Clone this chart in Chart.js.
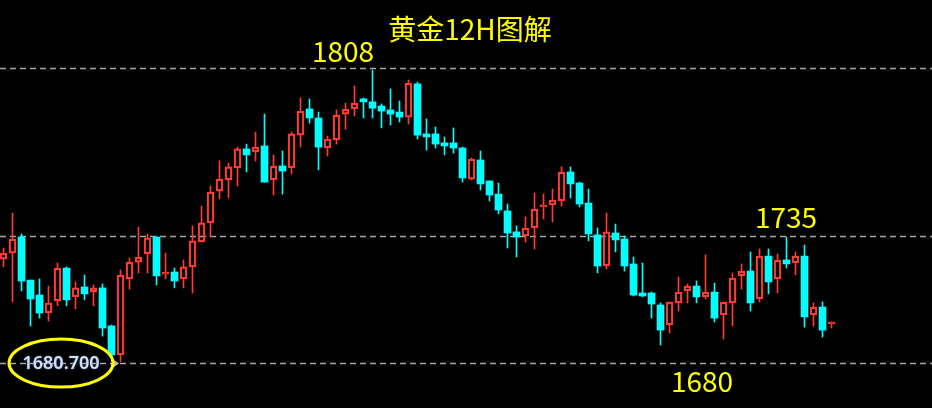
<!DOCTYPE html>
<html>
<head>
<meta charset="utf-8">
<script src="https://cdn.jsdelivr.net/npm/chart.js@4.4.0/dist/chart.umd.min.js"></script>
<style>
  html,body{margin:0;padding:0;background:#000;overflow:hidden;}
  #wrap{width:932px;height:408px;}
</style>
</head>
<body>
<div id="wrap"><canvas id="c" width="932" height="408"></canvas></div>
<script>
// 12H candles (price units)
const opens = [1725.1,1727.7,1734.7,1716.0,1709.5,1701.7,1706.9,1721.2,1708.7,1713.0,
  1710.8,1712.6,1696.1,1683.5,1716.5,1723.8,1727.3,1734.7,1718.6,1719.5,
  1716.5,1721.7,1732.5,1740.8,1754.6,1759.4,1764.6,1772.9,1771.6,1774.2,
  1759.4,1765.5,1764.6,1778.9,1790.2,1786.3,1773.3,1776.8,1788.0,1790.2,
  1794.6,1793.3,1791.5,1789.8,1788.9,1786.7,1801.1,1779.4,1779.4,1775.5,
  1775.5,1773.3,1759.8,1768.1,1759.0,1753.3,1746.0,1736.9,1735.1,1738.6,
  1747.7,1748.6,1750.3,1762.9,1758.1,1749.4,1735.6,1722.1,1736.4,1733.8,
  1723.0,1710.4,1710.4,1705.2,1696.5,1706.1,1711.3,1713.4,1708.7,1710.8,
  1700.9,1706.1,1717.8,1719.9,1707.8,1726.4,1716.5,1724.7,1723.4,1726.4,
  1700.9,1704.3,1697.0];
const highs = [1729.9,1745.1,1736.0,1716.0,1716.5,1713.4,1723.4,1721.7,1715.2,1718.2,
  1713.9,1714.3,1696.5,1720.4,1725.6,1739.0,1736.0,1734.7,1727.7,1721.2,
  1724.7,1739.5,1748.1,1756.8,1767.7,1766.8,1773.7,1775.0,1780.2,1788.0,
  1770.3,1772.0,1780.2,1795.0,1794.6,1788.9,1778.5,1789.8,1792.8,1800.2,
  1795.0,1807.1,1792.4,1798.9,1793.7,1802.8,1801.9,1785.9,1782.4,1778.1,
  1782.0,1773.7,1769.0,1772.0,1759.0,1758.1,1749.0,1739.5,1743.4,1753.8,
  1753.3,1755.5,1765.1,1765.1,1758.5,1755.5,1738.6,1745.1,1740.3,1735.1,
  1726.0,1723.4,1710.8,1706.1,1706.5,1717.3,1714.3,1715.6,1726.9,1714.7,
  1706.5,1719.1,1723.0,1728.2,1729.5,1729.5,1727.3,1734.7,1728.2,1731.2,
  1706.1,1706.5,1697.8];
const lows = [1721.7,1706.5,1711.3,1696.1,1699.5,1698.2,1704.8,1704.8,1703.5,1707.4,
  1704.8,1691.7,1682.6,1680.7,1712.1,1719.1,1719.1,1713.9,1716.5,1712.6,
  1712.6,1710.4,1732.5,1734.7,1751.2,1751.6,1756.8,1762.9,1767.7,1758.5,
  1752.9,1753.3,1762.0,1773.7,1784.1,1763.8,1769.8,1775.0,1781.5,1787.2,
  1786.3,1786.3,1782.0,1783.3,1784.6,1783.7,1777.2,1772.4,1773.3,1770.3,
  1771.1,1758.5,1759.4,1755.1,1750.3,1744.7,1729.9,1726.0,1732.5,1729.5,
  1742.5,1741.2,1748.1,1751.6,1747.7,1733.0,1719.1,1720.8,1728.2,1719.9,
  1709.1,1708.7,1699.5,1687.8,1693.0,1702.6,1706.1,1706.1,1707.8,1697.8,
  1690.4,1696.1,1712.1,1702.6,1706.5,1710.0,1710.4,1721.2,1718.2,1695.6,
  1696.1,1691.3,1695.2];
const closes = [1727.7,1733.8,1715.6,1707.8,1701.7,1706.1,1721.2,1707.4,1712.6,1710.0,
  1712.6,1695.2,1683.5,1718.2,1723.8,1726.0,1734.3,1717.8,1719.1,1715.6,
  1721.7,1733.0,1740.8,1754.2,1759.8,1765.1,1772.9,1770.3,1773.7,1758.5,
  1765.5,1763.3,1779.4,1789.3,1786.3,1773.7,1777.2,1787.6,1790.2,1792.8,
  1793.3,1790.6,1789.3,1788.0,1786.7,1801.5,1778.9,1778.1,1775.0,1774.2,
  1773.3,1760.3,1768.5,1757.7,1752.9,1746.4,1736.4,1734.7,1738.6,1746.8,
  1748.6,1750.7,1762.9,1757.7,1749.0,1736.0,1722.1,1736.9,1733.4,1722.1,
  1709.5,1709.1,1705.6,1694.3,1706.5,1710.8,1713.4,1708.7,1710.8,1699.5,
  1706.5,1716.9,1719.9,1706.1,1726.4,1715.2,1724.7,1723.0,1726.4,1700.0,
  1704.3,1694.3,1697.4];

// horizontal levels and their labels
const levels = [1808, 1735, 1680];
const levelLabels = ['1808', '1735', '1680'];
const lowPrice = '1680.700';
const title = '黄金12H图解';

const RED = '#ff3a30', CYAN = '#00ffff';

const isUp = opens.map((o,i)=>closes[i] >= o);
const colors = isUp.map(u=>u ? RED : CYAN);
const bodies = opens.map((o,i)=>({x:i, y:[o, closes[i]]}));
const upperWicks = opens.map((o,i)=>({x:i, y:[Math.max(o,closes[i]), highs[i]]}));
const lowerWicks = opens.map((o,i)=>({x:i, y:[lows[i], Math.min(o,closes[i])]}));

// dashed lines behind the candles
const levelLines = {
  id:'levelLines',
  beforeDatasetsDraw(chart){
    const {ctx, scales:{y}} = chart;
    ctx.save();
    ctx.strokeStyle = '#a8a8a8';
    ctx.lineWidth = 1.5;
    ctx.setLineDash([6,4]);
    levels.forEach(v=>{
      const py = Math.round(y.getPixelForValue(v)) + 0.5;
      ctx.beginPath(); ctx.moveTo(0,py); ctx.lineTo(chart.width,py); ctx.stroke();
    });
    ctx.restore();
  }
};

// title, level labels, low marker
const notes = {
  id:'notes',
  afterDraw(chart){
    const {ctx, scales:{y}} = chart;
    ctx.save();
    ctx.fillStyle = '#ffff00';
    ctx.textAlign = 'center';
    ctx.textBaseline = 'alphabetic';
    ctx.font = '28px "Noto Sans CJK SC"';
    ctx.fillText(title, 470, 40);
    ctx.fillText(levelLabels[0], 343, y.getPixelForValue(levels[0]) - 6);
    ctx.fillText(levelLabels[1], 786, y.getPixelForValue(levels[1]) - 8);
    ctx.fillText(levelLabels[2], 702, y.getPixelForValue(levels[2]) + 29);

    // price tag of the low
    const py = y.getPixelForValue(levels[2]);
    ctx.font = '600 18px "Noto Sans"';
    ctx.textBaseline = 'middle';
    ctx.shadowColor = 'rgba(70,120,230,0.9)';
    ctx.shadowBlur = 2;
    ctx.fillStyle = '#d8dde8';
    ctx.fillText(lowPrice, 61, py + 1);
    ctx.shadowBlur = 0;
    ctx.fillStyle = '#bbbbbb';
    ctx.beginPath(); ctx.moveTo(114, py-3); ctx.lineTo(119, py+0.5); ctx.lineTo(114, py+4); ctx.closePath(); ctx.fill();

    ctx.strokeStyle = '#ffff00';
    ctx.lineWidth = 3;
    ctx.beginPath();
    ctx.ellipse(61, py, 52, 24, 0, 0, Math.PI*2);
    ctx.stroke();
    ctx.restore();
  }
};

const wickSet = (data)=>({
  data, backgroundColor: colors, borderWidth: 0,
  barThickness: 1, grouped: false, order: 2
});

new Chart(document.getElementById('c'), {
  type:'bar',
  data:{datasets:[
    wickSet(upperWicks),
    wickSet(lowerWicks),
    {
      data: bodies,
      backgroundColor: isUp.map(u=>u ? 'rgba(0,0,0,0)' : CYAN),
      borderColor: colors,
      borderWidth: isUp.map(u=>u ? 1.6 : 0),
      borderSkipped: false,
      barThickness: 7,
      minBarLength: 2,
      grouped: false,
      order: 1
    }
  ]},
  options:{
    responsive:false,
    animation:false,
    events:[],
    layout:{padding:0},
    plugins:{legend:{display:false}, tooltip:{enabled:false}, title:{display:false}},
    scales:{
      x:{type:'linear', display:false, offset:false, grace:0, bounds:'data', min:-0.3889, max:103.167},
      y:{display:false, min:1660.5, max:1837.5}
    }
  },
  plugins:[levelLines, notes]
});
</script>
</body>
</html>
